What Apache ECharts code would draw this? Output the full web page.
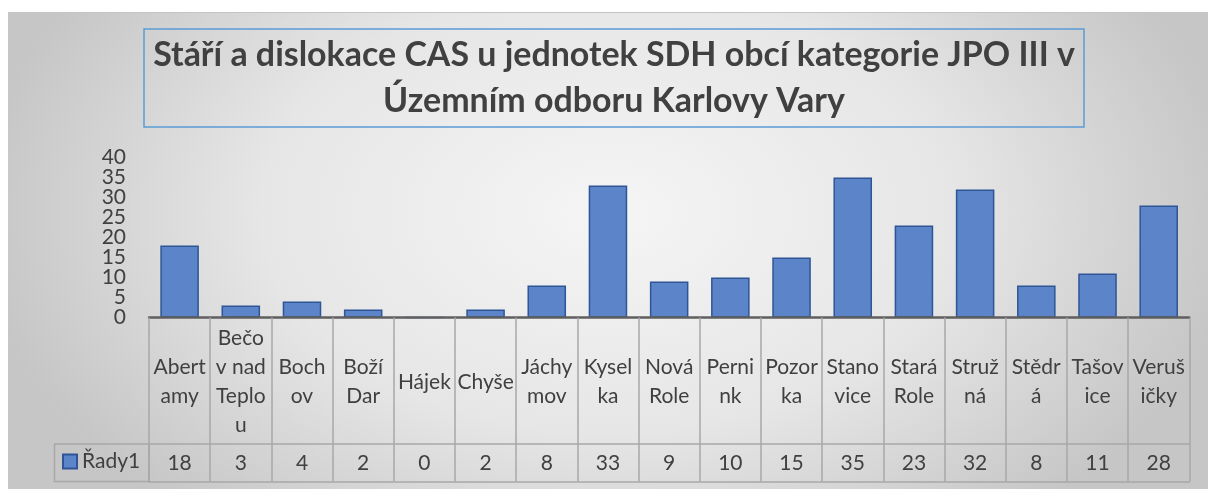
<!DOCTYPE html>
<html>
<head>
<meta charset="utf-8">
<script src="https://cdn.jsdelivr.net/npm/echarts@6/dist/echarts.min.js"></script>
<style>
html,body{margin:0;padding:0;background:#ffffff;}
#chart{width:1208px;height:489px;}
</style>
</head>
<body>
<div id="chart"></div>
<script>
// ---- data ----
const titleLines = ['Stáří a dislokace CAS u jednotek SDH obcí kategorie JPO III v', 'Územním odboru Karlovy Vary'];
const categories = ['Abertamy', 'Bečov nad Teplou', 'Bochov', 'Boží Dar', 'Hájek', 'Chyše', 'Jáchymov', 'Kyselka', 'Nová Role', 'Pernink', 'Pozorka', 'Stanovice', 'Stará Role', 'Stružná', 'Stědrá', 'Tašovice', 'Verušičky'];
const categoryLabels = ['Abert\namy', 'Bečo\nv nad\nTeplo\nu', 'Boch\nov', 'Boží\nDar', 'Hájek', 'Chyše', 'Jáchy\nmov', 'Kysel\nka', 'Nová\nRole', 'Perni\nnk', 'Pozor\nka', 'Stano\nvice', 'Stará\nRole', 'Struž\nná', 'Stědr\ná', 'Tašov\nice', 'Veruš\ničky'];
const seriesName = 'Řady1';
const values = [18, 3, 4, 2, 0, 2, 8, 33, 9, 10, 15, 35, 23, 32, 8, 11, 28];
const yMin = 0, yMax = 40, yStep = 5;

// ---- layout / style ----
const FONT = 'Lato';
const TEXT = '#404040';
const GRID = {left: 149, right: 18.7, top: 157.5, bottom: 171.5};
const CHART_H = 489;
const axisY = CHART_H - GRID.bottom;          // 317.5
const rowTop = 444, rowBottom = 481.5;

// fit title font to reference width
const ctx = document.createElement('canvas').getContext('2d');
ctx.font = 'bold 36px ' + FONT;
const w36 = ctx.measureText(titleLines[0]).width;
const titleSize = 36 * 922 / w36;
const titleTextW = 922;
const boxLeft = 143.5, boxW = 941;
const padH = (boxW - titleTextW) / 2;

const chart = echarts.init(document.getElementById('chart'), null, {renderer: 'canvas'});

const baseW = 762, baseH = 477;

// the y labels are tightly packed: two overlaid left axes (same scale) each show every other label
function yAxisDef(showEven) {
  return {
    type: 'value',
    position: 'left',
    offset: 0,
    min: yMin, max: yMax, interval: yStep,
    axisLine: {show: false},
    axisTick: {show: false},
    splitLine: {show: false},
    axisLabel: {
      fontFamily: FONT, fontSize: 21, color: TEXT, margin: 23,
      formatter: function (v) {
        const even = (v / yStep) % 2 === 0;
        return even === showEven ? String(v) : '';
      }
    }
  };
}

const option = {
  animation: false,
  backgroundColor: '#ffffff',
  textStyle: {fontFamily: FONT},
  graphic: [
    {
      type: 'rect', z: -100, silent: true,
      x: 8, y: 12, scaleX: 1200 / baseW,
      shape: {x: 0, y: 0, width: baseW, height: baseH},
      style: {
        fill: new echarts.graphic.RadialGradient(0.5, 0.42, 0.84, [
          {offset: 0, color: '#f5f5f5'},
          {offset: 0.55, color: '#e6e6e6'},
          {offset: 1, color: '#c6c6c6'}
        ])
      }
    },
    {
      type: 'line', z: -99, silent: true,
      shape: {x1: 8, y1: 12.5, x2: 1208, y2: 12.5},
      style: {stroke: '#c4c4c4', lineWidth: 1}
    },
    {
      type: 'rect', z: 5, silent: true,
      shape: {x: 54.5, y: rowTop, width: GRID.left - 54.5, height: rowBottom - rowTop},
      style: {fill: 'none', stroke: '#a8a8a8', lineWidth: 1.5}
    }
  ],
  title: {
    text: titleLines.join('\n'),
    left: boxLeft + titleTextW / 2,
    top: 29,
    textAlign: 'center',
    padding: [3, padH],
    borderColor: '#5b9bd5',
    borderWidth: 1.5,
    textStyle: {
      fontFamily: FONT,
      fontWeight: 'bold',
      fontSize: titleSize,
      lineHeight: 46,
      color: TEXT
    }
  },
  legend: {
    show: true,
    left: 62,
    top: 451,
    padding: 0,
    icon: 'rect',
    itemWidth: 14,
    itemHeight: 14,
    textStyle: {fontFamily: FONT, fontSize: 21, color: TEXT, padding: [0, 0, 0, 0]},
    data: [seriesName]
  },
  grid: {left: GRID.left, right: GRID.right, top: GRID.top, bottom: GRID.bottom, containLabel: false},
  xAxis: [
    {
      type: 'category',
      data: categories,
      position: 'bottom',
      boundaryGap: true,
      z: 5,
      axisLine: {show: true, lineStyle: {color: '#5f5f5f', width: 2.5}},
      axisTick: {show: true, length: rowBottom - axisY, interval: 0, lineStyle: {color: '#a8a8a8', width: 1.5}},
      axisLabel: {
        interval: 0,
        hideOverlap: false,
        formatter: function (v, i) { return categoryLabels[i]; },
        fontFamily: FONT, fontSize: 21, lineHeight: 29, color: TEXT,
        verticalAlign: 'middle', margin: 64.5
      },
      splitLine: {show: false}
    },
    {
      type: 'category',
      data: categories,
      position: 'bottom',
      offset: rowTop - axisY,
      boundaryGap: true,
      axisLine: {show: true, onZero: false, lineStyle: {color: '#a8a8a8', width: 1.5}},
      axisTick: {show: false},
      axisLabel: {
        interval: 0,
        hideOverlap: false,
        formatter: function (v, i) { return String(values[i]); },
        fontFamily: FONT, fontSize: 21, color: TEXT,
        verticalAlign: 'middle', margin: 19
      },
      splitLine: {show: false}
    },
    {
      type: 'category',
      data: categories,
      position: 'bottom',
      offset: rowBottom - axisY,
      boundaryGap: true,
      axisLine: {show: true, onZero: false, lineStyle: {color: '#a8a8a8', width: 1.5}},
      axisTick: {show: false},
      axisLabel: {show: false},
      splitLine: {show: false}
    }
  ],
  yAxis: [yAxisDef(true), yAxisDef(false)],
  series: [{
    name: seriesName,
    type: 'bar',
    xAxisIndex: 0,
    yAxisIndex: 0,
    data: values,
    barCategoryGap: '37%',
    itemStyle: {color: '#5b84c9', borderColor: '#2f5597', borderWidth: 1.5}
  }]
};
chart.setOption(option);
</script>
</body>
</html>
